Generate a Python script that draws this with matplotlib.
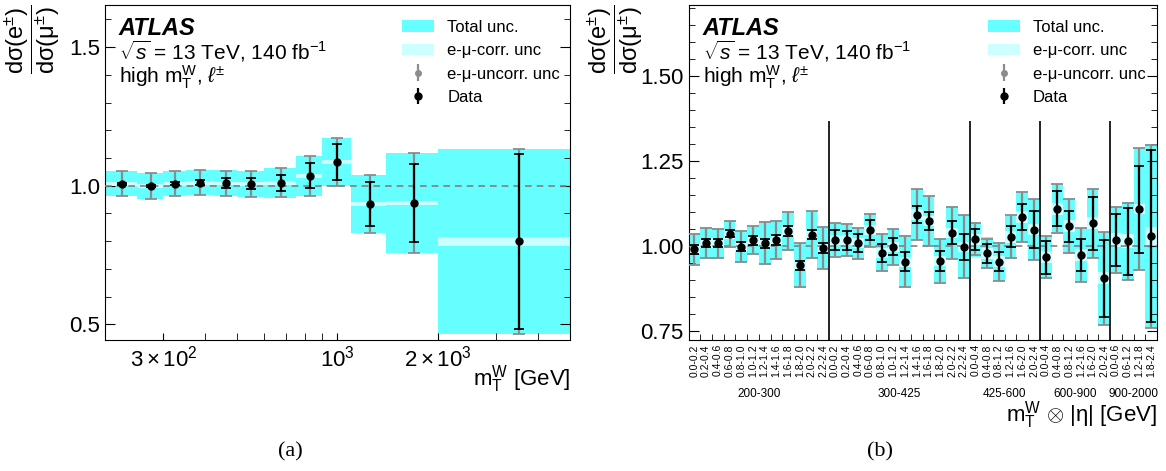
import numpy as np
import matplotlib
matplotlib.use("Agg")
import matplotlib.pyplot as plt
from matplotlib.patches import Patch
from matplotlib.ticker import FixedLocator, NullFormatter, MultipleLocator, FormatStrFormatter

plt.rcParams['font.family'] = ['Liberation Sans', 'DejaVu Sans']
plt.rcParams['mathtext.fontset'] = 'custom'
plt.rcParams['mathtext.rm'] = 'Liberation Sans'
plt.rcParams['mathtext.it'] = 'Liberation Sans:italic'
plt.rcParams['mathtext.bf'] = 'Liberation Sans:bold'

# mT-only binning
mt_edges = [200, 250, 300, 350, 425, 500, 600, 750, 900, 1100, 1400, 2000, 5000]
ratio_mt = [1.007, 1.000, 1.007, 1.011, 1.008, 1.007, 1.010, 1.036, 1.085, 0.934, 0.938, 0.799]
total_mt = [0.046, 0.047, 0.046, 0.046, 0.047, 0.047, 0.053, 0.072, 0.086, 0.105, 0.180, 0.334]
corr_mt = [0.007, 0.007, 0.007, 0.007, 0.007, 0.007, 0.007, 0.007, 0.007, 0.007, 0.007, 0.017]
stat_mt = [0.004, 0.004, 0.005, 0.008, 0.018, 0.020, 0.028, 0.045, 0.065, 0.081, 0.140, 0.317]

# mT x |eta| binning
mt_groups = ['200-300', '300-425', '425-600', '600-900', '900-2000']
eta_bins = [
    ['0.0-0.2', '0.2-0.4', '0.4-0.6', '0.6-0.8', '0.8-1.0', '1.0-1.2',
     '1.2-1.4', '1.4-1.6', '1.6-1.8', '1.8-2.0', '2.0-2.2', '2.2-2.4'],
    ['0.0-0.2', '0.2-0.4', '0.4-0.6', '0.6-0.8', '0.8-1.0', '1.0-1.2',
     '1.2-1.4', '1.4-1.6', '1.6-1.8', '1.8-2.0', '2.0-2.2', '2.2-2.4'],
    ['0.0-0.4', '0.4-0.8', '0.8-1.2', '1.2-1.6', '1.6-2.0', '2.0-2.4'],
    ['0.0-0.4', '0.4-0.8', '0.8-1.2', '1.2-1.6', '1.6-2.0', '2.0-2.4'],
    ['0.0-0.6', '0.6-1.2', '1.2-1.8', '1.8-2.4'],
]
ratio_2d = [0.991, 1.009, 1.009, 1.037, 0.999, 1.018, 1.009, 1.019, 1.045, 0.944, 1.034, 0.995,
            1.018, 1.018, 1.009, 1.047, 0.981, 0.999, 0.955, 1.093, 1.075, 0.957, 1.040, 0.999,
            1.020, 0.979, 0.955, 1.028, 1.086, 1.049,
            0.968, 1.110, 1.059, 0.975, 1.068, 0.906,
            1.018, 1.015, 1.109, 1.030]
total_2d = [0.047, 0.047, 0.045, 0.041, 0.048, 0.043, 0.064, 0.058, 0.059, 0.066, 0.070, 0.063,
            0.052, 0.050, 0.048, 0.050, 0.056, 0.055, 0.077, 0.076, 0.075, 0.067, 0.078, 0.094,
            0.050, 0.047, 0.058, 0.065, 0.075, 0.090,
            0.065, 0.074, 0.082, 0.081, 0.103, 0.137,
            0.099, 0.115, 0.180, 0.270]
corr_2d = [0.015] * 24 + [0.017] * 6 + [0.018] * 6 + [0.020, 0.020, 0.015, 0.027]
stat_2d = [0.014, 0.012, 0.011, 0.010, 0.013, 0.013, 0.013, 0.014, 0.014, 0.014, 0.014, 0.016,
           0.029, 0.028, 0.026, 0.029, 0.027, 0.026, 0.027, 0.026, 0.027, 0.029, 0.033, 0.038,
           0.032, 0.028, 0.027, 0.031, 0.039, 0.054,
           0.048, 0.051, 0.045, 0.047, 0.078, 0.113,
           0.077, 0.098, 0.128, 0.252]

c_tot = '#66ffff'
c_corr = '#ccffff'
c_unc = '#8c8c8c'
ylab = r'$\dfrac{\mathrm{d\sigma(e^{\pm})}}{\mathrm{d\sigma(\mu^{\pm})}}$'


def draw_ratio(ax, lo, hi, x, val, tot, corr, stat):
    val = np.array(val)
    tot = np.array(tot)
    corr = np.array(corr)
    unc = np.sqrt(np.clip(tot**2 - corr**2, 0, None))
    ax.bar(lo, 2 * tot, width=hi - lo, bottom=val - tot, align='edge',
           color=c_tot, lw=0, zorder=1)
    ax.bar(lo, 2 * corr, width=hi - lo, bottom=val - corr, align='edge',
           color=c_corr, lw=0, zorder=2)
    ax.axhline(1.0, color='#808080', ls='--', lw=1.2, dashes=(4, 3), zorder=3)
    ax.errorbar(x, val, yerr=unc, fmt='o', color=c_unc, ms=4, elinewidth=1.6,
                capsize=4.5, capthick=1.3, zorder=4)
    ax.errorbar(x, val, yerr=stat, fmt='o', color='black', ms=5, elinewidth=1.6,
                capsize=3.5, capthick=1.3, zorder=5)


def decorate(ax):
    ax.text(0.03, 0.931, 'ATLAS', transform=ax.transAxes, fontsize=17,
            fontweight='bold', fontstyle='italic', va='center')
    ax.text(0.03, 0.861, r'$\sqrt{s}$ = 13 TeV, 140 fb$^{-1}$', transform=ax.transAxes,
            fontsize=15, va='center')
    ax.text(0.03, 0.783, r'high m$_{\mathrm{T}}^{\mathrm{W}}$, $\ell^{\pm}$',
            transform=ax.transAxes, fontsize=15, va='center')
    handles = [
        Patch(facecolor=c_tot, edgecolor='none'),
        Patch(facecolor=c_corr, edgecolor='none'),
        ax.errorbar([], [], yerr=[], fmt='o', color=c_unc, ms=4, elinewidth=1.6,
                    capsize=3.5, capthick=1.3),
        ax.errorbar([], [], yerr=[], fmt='o', color='black', ms=5, elinewidth=1.6,
                    capsize=3.5, capthick=1.3),
    ]
    labels = ['Total unc.', 'e-μ-corr. unc', 'e-μ-uncorr. unc', 'Data']
    ax.legend(handles, labels, loc='upper left', bbox_to_anchor=(0.607, 1.0),
              frameon=False, fontsize=12, handlelength=1.9, handleheight=0.7,
              handletextpad=0.8, labelspacing=0.5)
    ax.set_ylabel(ylab, fontsize=17, loc='top')
    ax.yaxis.set_label_coords(-0.092, 1.0)
    ax.tick_params(axis='y', which='both', direction='in', left=True, right=True,
                   labelsize=16)
    ax.tick_params(axis='y', which='major', length=7)
    ax.tick_params(axis='y', which='minor', length=4)
    ax.tick_params(axis='x', which='both', direction='in', top=False)


fig = plt.figure(figsize=(11.66, 4.71), dpi=100)
ax1 = fig.add_axes([0.0899, 0.2781, 0.399, 0.7113])
ax2 = fig.add_axes([0.5905, 0.2781, 0.4018, 0.7113])

# left: ratio vs mT
edges = np.array(mt_edges, dtype=float)
lo, hi = edges[:-1], edges[1:]
draw_ratio(ax1, lo, hi, (lo + hi) / 2, ratio_mt, total_mt, corr_mt, stat_mt)
ax1.set_xscale('log')
ax1.set_xlim(200, 5000)
ax1.set_ylim(0.443, 1.652)
ax1.xaxis.set_major_locator(FixedLocator([300, 1000, 2000]))
ax1.xaxis.set_minor_locator(FixedLocator([400, 500, 600, 700, 800, 900, 3000, 4000]))
ax1.xaxis.set_minor_formatter(NullFormatter())
ax1.set_xticklabels([r'$3\times10^{2}$', r'$10^{3}$', r'$2\times10^{3}$'])
ax1.tick_params(axis='x', which='both', labelsize=16, length=5, pad=4)
ax1.yaxis.set_major_locator(FixedLocator([0.5, 1.0, 1.5]))
ax1.yaxis.set_minor_locator(MultipleLocator(0.1))
ax1.yaxis.set_major_formatter(FormatStrFormatter('%.1f'))
ax1.set_xlabel(r'm$_{\mathrm{T}}^{\mathrm{W}}$ [GeV]', fontsize=16, loc='right')
ax1.xaxis.set_label_coords(1.0, -0.07)
decorate(ax1)

# right: ratio vs mT x |eta|
tick_labels = [lab for grp in eta_bins for lab in grp]
n = len(tick_labels)
idx = np.arange(n)
draw_ratio(ax2, idx, idx + 1, idx + 0.5, ratio_2d, total_2d, corr_2d, stat_2d)
ax2.set_xlim(0, n)
ax2.set_ylim(0.725, 1.708)
ax2.set_xticks(idx + 0.5)
ax2.set_xticklabels(tick_labels, rotation=90, fontsize=7.5)
ax2.xaxis.set_minor_locator(FixedLocator(np.arange(n + 1)))
ax2.tick_params(axis='x', which='major', length=0, pad=3)
ax2.tick_params(axis='x', which='minor', length=4)
ax2.yaxis.set_major_locator(FixedLocator([0.75, 1.0, 1.25, 1.5]))
ax2.yaxis.set_minor_locator(MultipleLocator(0.05))
ax2.yaxis.set_major_formatter(FormatStrFormatter('%.2f'))
start = 0
for name, grp in zip(mt_groups, eta_bins):
    stop = start + len(grp)
    if start > 0:
        ax2.plot([start, start], [0.725, 1.366], color='#222222', lw=1.4, zorder=6)
    ax2.text((start + stop) / 2, -0.16, name, transform=ax2.get_xaxis_transform(),
             ha='center', va='center', fontsize=8.5)
    start = stop
ax2.set_xlabel(r'm$_{\mathrm{T}}^{\mathrm{W}}$ $\otimes$ |η| [GeV]', fontsize=16, loc='right')
ax2.xaxis.set_label_coords(1.0, -0.175)
decorate(ax2)

fig.text(290 / 1166, 1 - 452 / 471, '(a)', ha='center', va='center',
         family='Liberation Serif', fontsize=16)
fig.text(880 / 1166, 1 - 452 / 471, '(b)', ha='center', va='center',
         family='Liberation Serif', fontsize=16)

fig.savefig('out.png', dpi=100)
